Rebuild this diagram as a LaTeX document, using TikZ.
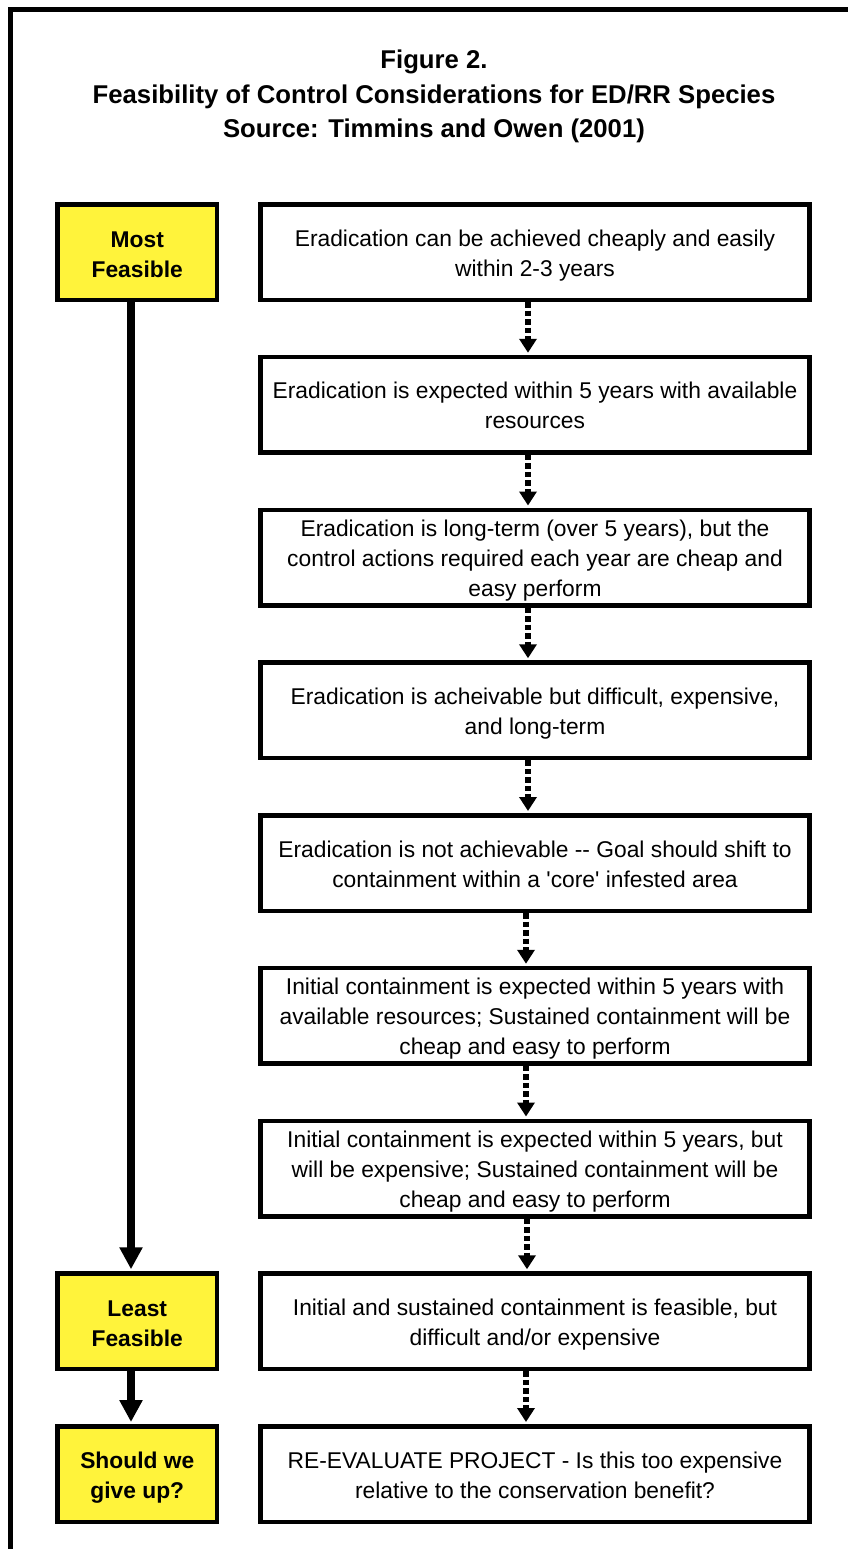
\documentclass[tikz,border=0pt]{standalone}
\usepackage{fontspec}
\setmainfont{Liberation Sans}
\usetikzlibrary{arrows.meta}
\definecolor{yel}{RGB}{255,243,59}
\newcommand{\mytopstrut}{\rule{0pt}{24pt}}
\begin{document}
\begin{tikzpicture}[x=1pt,y=-1pt,
  bodyfont/.style={font=\fontsize{22.8}{30}\selectfont},
  rbox/.style={draw, line width=4.5pt, minimum width=549pt, minimum height=95.5pt, inner sep=0pt, align=center, bodyfont,
    execute at end node={\rule[-6pt]{0pt}{6pt}}},
  ybox/.style={draw, fill=yel, line width=4.5pt, minimum width=159.5pt, minimum height=95.5pt, inner sep=0pt, align=center, font=\fontsize{22.8}{30}\selectfont\bfseries,
    execute at end node={\rule[-4pt]{0pt}{4pt}}},
  dotarrow/.style={line width=5.5pt, dash pattern=on 5.5pt off 3pt, -{Triangle[width=17pt,length=14pt]}, shorten >=2pt},
  thickarrow/.style={line width=8pt, -{Triangle[width=22pt,length=22pt]}, shorten >=2pt}
]
\useasboundingbox (0,0) rectangle (847,1549);
\draw[line width=4.5pt] (10.5,1600) -- (10.5,9.5) -- (900,9.5);

\node[align=center, font=\fontsize{25.7}{34.5}\selectfont\bfseries] (title) at (434,96.5)
  {Figure 2.\\Feasibility of Control Considerations for ED/RR Species\\Source: Timmins and Owen (2001)};

\node[rbox] (b1) at (535,252) {\mytopstrut Eradication can be achieved cheaply and easily\\within 2-3 years};
\node[rbox] (b2) at (535,404.75) {\mytopstrut Eradication is expected within 5 years with available\\resources};
\node[rbox] (b3) at (535,557.5) {\mytopstrut Eradication is long-term (over 5 years), but the\\control actions required each year are cheap and\\easy perform};
\node[rbox] (b4) at (535,710.25) {\mytopstrut Eradication is acheivable but difficult, expensive,\\and long-term};
\node[rbox] (b5) at (535,863) {\mytopstrut Eradication is not achievable -{}- Goal should shift to\\containment within a \textquotesingle core\textquotesingle\ infested area};
\node[rbox] (b6) at (535,1015.75) {\mytopstrut Initial containment is expected within 5 years with\\available resources; Sustained containment will be\\cheap and easy to perform};
\node[rbox] (b7) at (535,1168.5) {\mytopstrut Initial containment is expected within 5 years, but\\will be expensive; Sustained containment will be\\cheap and easy to perform};
\node[rbox] (b8) at (535,1321.25) {\mytopstrut Initial and sustained containment is feasible, but\\difficult and/or expensive};
\node[rbox] (b9) at (535,1474) {\mytopstrut RE-EVALUATE PROJECT - Is this too expensive\\relative to the conservation benefit?};

\node[ybox] (most) at (137.25,252) {\mytopstrut Most\\Feasible};
\node[ybox] (least) at (137.25,1321.25) {\mytopstrut Least\\Feasible};
\node[ybox] (giveup) at (137.25,1474) {\mytopstrut Should we\\give up?};

\draw[dotarrow] ([xshift=-7pt]b1.south) -- ([xshift=-7pt]b2.north);
\draw[dotarrow] ([xshift=-7pt]b2.south) -- ([xshift=-7pt]b3.north);
\draw[dotarrow] ([xshift=-7pt]b3.south) -- ([xshift=-7pt]b4.north);
\draw[dotarrow] ([xshift=-7pt]b4.south) -- ([xshift=-7pt]b5.north);
\draw[dotarrow] ([xshift=-9pt]b5.south) -- ([xshift=-9pt]b6.north);
\draw[dotarrow] ([xshift=-9pt]b6.south) -- ([xshift=-9pt]b7.north);
\draw[dotarrow] ([xshift=-8pt]b7.south) -- ([xshift=-8pt]b8.north);
\draw[dotarrow] ([xshift=-9pt]b8.south) -- ([xshift=-9pt]b9.north);

\draw[thickarrow] ([xshift=-6.25pt]most.south) -- ([xshift=-6.25pt]least.north);
\draw[thickarrow] ([xshift=-6.25pt]least.south) -- ([xshift=-6.25pt]giveup.north);
\end{tikzpicture}
\end{document}
